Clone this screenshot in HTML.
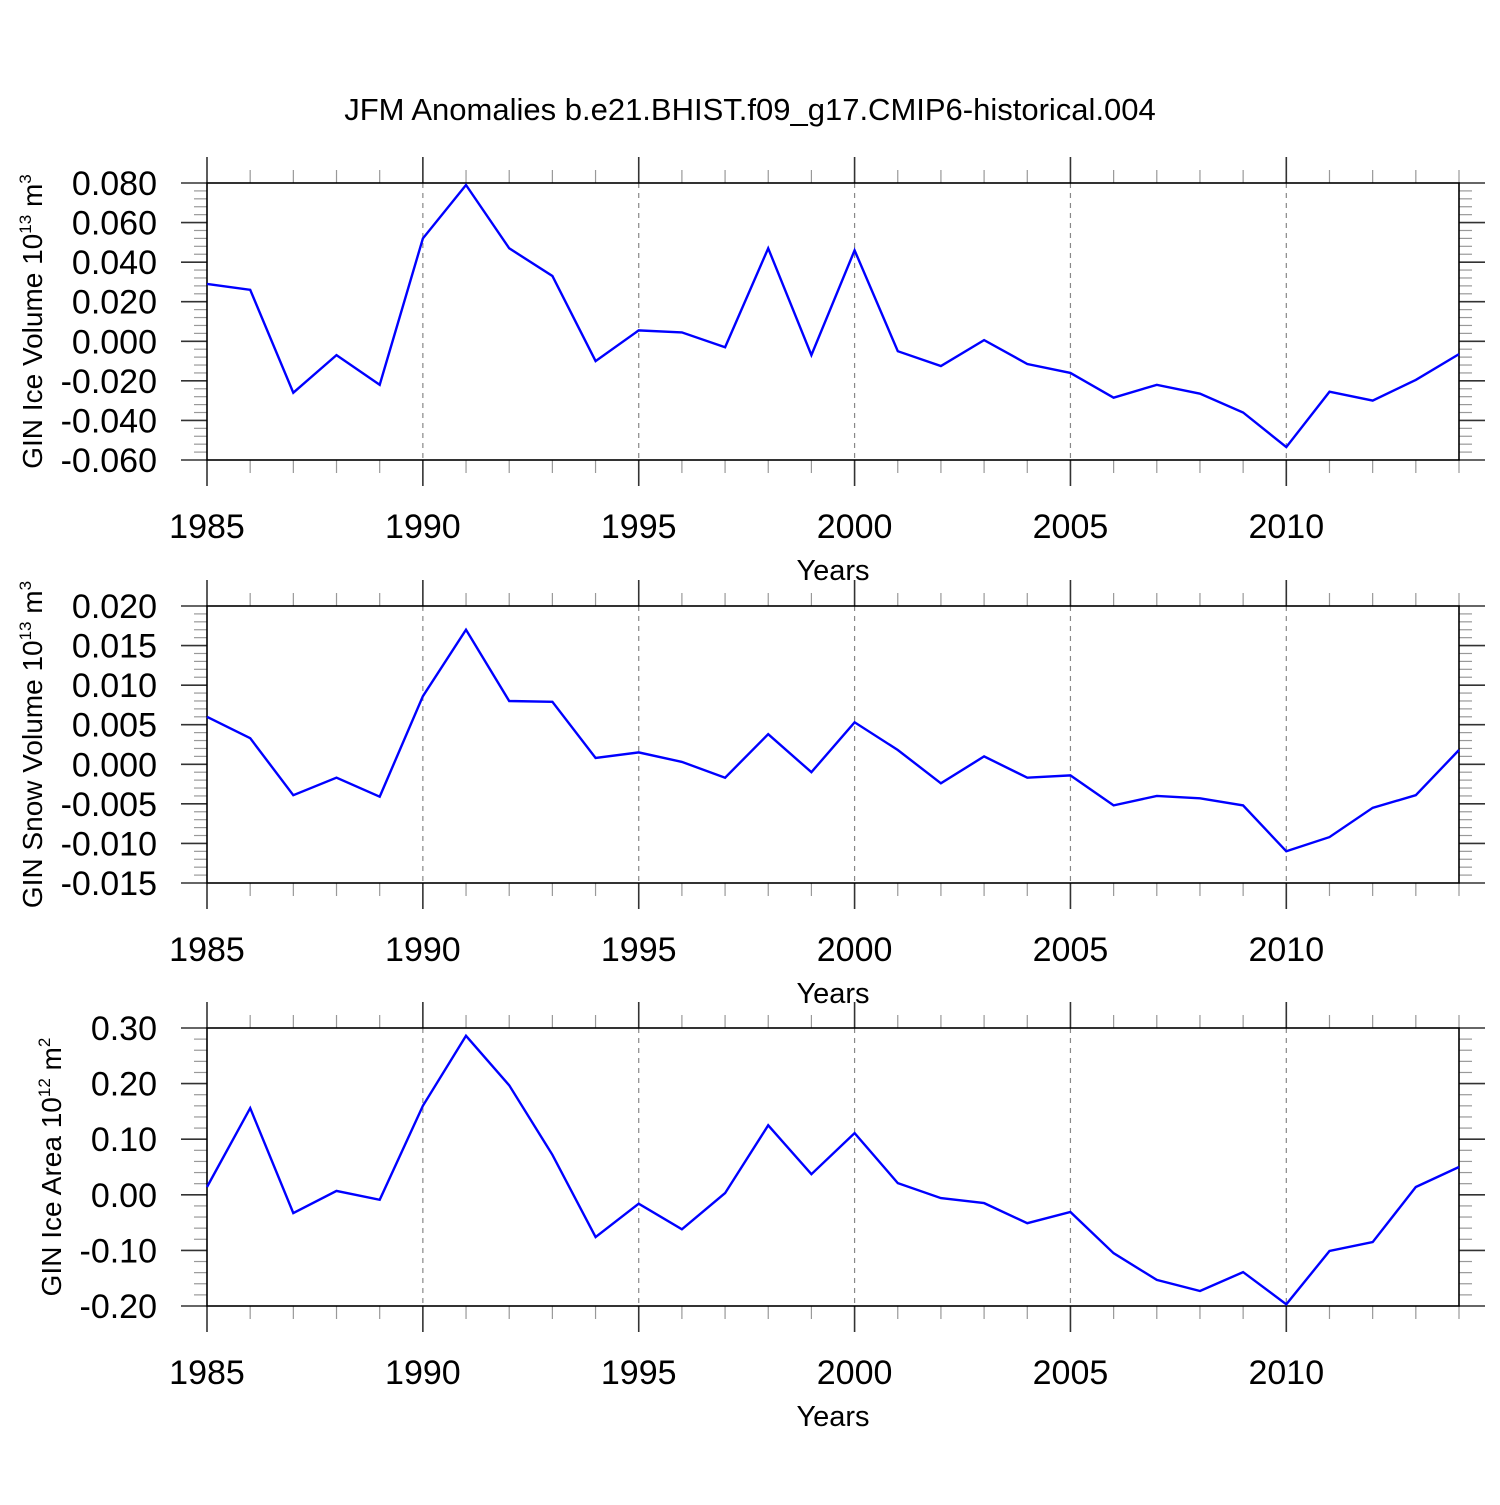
<!DOCTYPE html>
<html><head><meta charset="utf-8"><style>
body{margin:0;background:#fff}
text{font-family:"Liberation Sans",sans-serif;fill:#000}
</style></head><body>
<svg id="c" width="1500" height="1500" xmlns="http://www.w3.org/2000/svg">
<text x="750" y="120" font-size="31" text-anchor="middle">JFM Anomalies b.e21.BHIST.f09_g17.CMIP6-historical.004</text>
</svg>
<script>
const years=[1985,1986,1987,1988,1989,1990,1991,1992,1993,1994,1995,1996,1997,1998,1999,2000,2001,2002,2003,2004,2005,2006,2007,2008,2009,2010,2011,2012,2013,2014];
const iceVolume=[0.029,0.026,-0.026,-0.007,-0.022,0.052,0.079,0.047,0.033,-0.010,0.0055,0.0045,-0.003,0.047,-0.007,0.046,-0.005,-0.0125,0.0006,-0.0115,-0.016,-0.0285,-0.022,-0.0265,-0.036,-0.0535,-0.0255,-0.030,-0.0195,-0.0065];
const snowVolume=[0.006,0.0033,-0.0039,-0.0017,-0.0041,0.0086,0.017,0.008,0.0079,0.0008,0.0015,0.0003,-0.0017,0.0038,-0.001,0.0053,0.0018,-0.0024,0.001,-0.0017,-0.0014,-0.0052,-0.004,-0.0043,-0.0052,-0.011,-0.0092,-0.0055,-0.0039,0.0018];
const iceArea=[0.014,0.156,-0.033,0.007,-0.009,0.16,0.286,0.197,0.072,-0.076,-0.016,-0.062,0.003,0.125,0.037,0.111,0.021,-0.006,-0.015,-0.051,-0.031,-0.105,-0.153,-0.173,-0.139,-0.197,-0.101,-0.085,0.014,0.05];
const xTicks=[1985,1990,1995,2000,2005,2010];
const ticks1=[0.08,0.06,0.04,0.02,0,-0.02,-0.04,-0.06];
const ticks2=[0.02,0.015,0.01,0.005,0,-0.005,-0.01,-0.015];
const ticks3=[0.3,0.2,0.1,0,-0.1,-0.2];
const svg=document.getElementById('c');
const NS='http://www.w3.org/2000/svg';
function el(t,a,txt){const e=document.createElementNS(NS,t);for(const k in a)e.setAttribute(k,a[k]);if(txt!==undefined)e.textContent=txt;svg.appendChild(e);return e;}
const X0=207,X1=1459;
function xs(y){return X0+(y-1985)/(2014-1985)*(X1-X0);}
function panel(top,bot,ymax,ymin,ticks,dec,vals,label,exp,unitExp,key,lx){
  const ys=v=>top+(ymax-v)/(ymax-ymin)*(bot-top);
  const g='#333';
  xTicks.slice(1).forEach(t=>{const l=el('line',{x1:xs(t),x2:xs(t),y1:top,y2:bot,stroke:'#888','stroke-width':1.2,'stroke-dasharray':'5,5'});
    
    });
  for(let y=1985;y<=2014;y++){const maj=(y%5===0);const len=maj?26:13;
    const a=el('line',{x1:xs(y),x2:xs(y),y1:top,y2:top-len,stroke:maj?g:'#999','stroke-width':maj?1.6:1.2});
    
    
    const b=el('line',{x1:xs(y),x2:xs(y),y1:bot,y2:bot+len,stroke:maj?g:'#999','stroke-width':maj?1.6:1.2});
    
    }
  xTicks.forEach(t=>{const tx=el('text',{x:xs(t),y:bot+78,'font-size':34,'text-anchor':'middle'},String(t));
    
    });
  const step=ticks[0]-ticks[1];
  for(let i=0;i<ticks.length;i++){
    const v=ticks[i];const y=ys(v);
    [[X0,X0-26],[X1,X1+26]].forEach(p=>{const l=el('line',{x1:p[0],x2:p[1],y1:y,y2:y,stroke:g,'stroke-width':1.6});
      
      });
    if(i<ticks.length-1)for(let k=1;k<5;k++){const yy=ys(v-step*k/5);
      [[X0,X0-13],[X1,X1+13]].forEach(p=>{const l=el('line',{x1:p[0],x2:p[1],y1:yy,y2:yy,stroke:'#999','stroke-width':1.2});
        
        });}
    const t=el('text',{x:157,y:y+12,'font-size':34,'text-anchor':'end'},v.toFixed(dec));
    
    
  }
  const f=el('rect',{x:X0,y:top,width:X1-X0,height:bot-top,fill:'none',stroke:'#000','stroke-width':1.6});
  
  
  const pts=vals.map((v,i)=>xs(years[i]).toFixed(1)+','+ys(v).toFixed(1)).join(' ');
  const pl=el('polyline',{points:pts,fill:'none',stroke:'#0000ff','stroke-width':2.4});
  
  
  const xl=el('text',{x:833,y:bot+120,'font-size':29,'text-anchor':'middle'},'Years');
  
  
  const cy=(top+bot)/2;
  const yl=el('text',{x:0,y:0,'font-size':28,'text-anchor':'middle',transform:'translate('+lx+','+cy+') rotate(-90)'});
  
  
  yl.innerHTML=label+' 10<tspan dy="-11" font-size="17">'+exp+'</tspan><tspan dy="11"> m</tspan><tspan dy="-11" font-size="17">'+unitExp+'</tspan>';
}
panel(183,460,0.08,-0.06,ticks1,3,iceVolume,'GIN Ice Volume','13','3','ice-volume',42);
panel(606,883,0.02,-0.015,ticks2,3,snowVolume,'GIN Snow Volume','13','3','snow-volume',42);
panel(1028,1306,0.3,-0.2,ticks3,2,iceArea,'GIN Ice Area','12','2','ice-area',61);
</script>
</body></html>
